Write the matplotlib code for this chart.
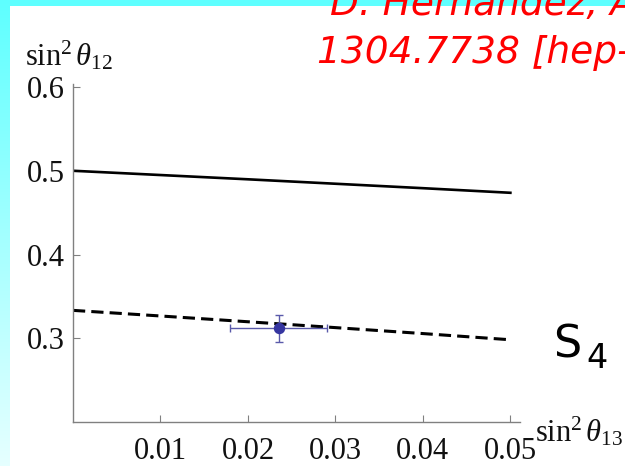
import numpy as np
import matplotlib
matplotlib.use("Agg")
import matplotlib.pyplot as plt

plt.rcParams['mathtext.fontset'] = 'custom'
plt.rcParams['mathtext.rm'] = 'Liberation Serif'
plt.rcParams['mathtext.it'] = 'Liberation Serif:italic'
plt.rcParams['font.family'] = 'Liberation Serif'

# sin^2 theta13 grid and the two sin^2 theta12 predictions
s13 = [0.0, 0.01, 0.02, 0.03, 0.04, 0.05]
s12_solid = [0.5000, 0.4949, 0.4898, 0.4845, 0.4792, 0.4737]
s12_dashed = [0.3333, 0.3266, 0.3197, 0.3127, 0.3056, 0.2982]

# measured point with errors
pt_x = [0.0235]
pt_y = [0.312]
pt_xerr = [0.0055]
pt_yerr = [0.016]

xticks = [0.01, 0.02, 0.03, 0.04, 0.05]
xticklabels = ['0.01', '0.02', '0.03', '0.04', '0.05']
yticks = [0.3, 0.4, 0.5, 0.6]
yticklabels = ['0.3', '0.4', '0.5', '0.6']

W, H = 625, 466
fig = plt.figure(figsize=(W / 100, H / 100), dpi=100)
fig.patch.set_facecolor('white')

# cyan slide frame: top band and left gradient strip
top = fig.add_axes([0, 1 - 6 / H, 1, 6 / H])
top.set_facecolor('#5effff')
top.set_axis_off()
top.add_patch(plt.Rectangle((0, 0), 1, 1, color='#5effff', transform=top.transAxes))

left = fig.add_axes([0, 0, 10 / W, 1])
left.set_axis_off()
grad = np.linspace(0, 1, 256).reshape(-1, 1)
c0 = np.array([0x5e, 0xff, 0xff]) / 255
c1 = np.array([0xe6, 0xff, 0xff]) / 255
img = c0[None, None, :] * (1 - grad[:, :, None]) + c1[None, None, :] * grad[:, :, None]
left.imshow(img, aspect='auto', extent=[0, 1, 0, 1], origin='upper')

# main plot
ax = fig.add_axes([73 / W, (H - 422) / H, (520 - 73) / W, (422 - 84) / H])
ax.set_facecolor('none')
ax.plot(s13, s12_solid, color='black', lw=1.9)
ax.plot(s13, s12_dashed, color='black', lw=2.2, dashes=(4, 2))
ax.errorbar(pt_x, pt_y, xerr=pt_xerr, yerr=pt_yerr, fmt='o', color='#3535a0',
            ms=7.2, ecolor='#5a5aaa', elinewidth=1.0, capsize=3, capthick=1.0)

ax.set_xlim(0, 0.0511)
ax.set_ylim(0.2, 0.6036)
for s in ['top', 'right']:
    ax.spines[s].set_visible(False)
for s in ['left', 'bottom']:
    ax.spines[s].set_color('#808080')
    ax.spines[s].set_linewidth(1.0)
ax.set_xticks(xticks)
ax.set_xticklabels(xticklabels)
ax.set_yticks(yticks)
ax.set_yticklabels(yticklabels)
ax.tick_params(direction='in', length=5, width=0.8, color='#808080',
               labelsize=22, labelcolor='#111111')
ax.tick_params(axis='x', pad=11)
ax.tick_params(axis='y', pad=6)

# axis titles
fig.text(25 / W, 1 - 66 / H, r'$\mathrm{sin}^2\,\theta_{12}$', fontsize=22,
         ha='left', va='baseline', color='#111111')
fig.text(535 / W, 1 - 442 / H, r'$\mathrm{sin}^2\,\theta_{13}$', fontsize=22,
         ha='left', va='baseline', color='#111111')

# symmetry group label
fig.text(553 / W, 1 - 357 / H, 'S', fontsize=32, family='DejaVu Sans',
         ha='left', va='baseline', color='black')
fig.text(586 / W, 1 - 368 / H, '4', fontsize=24, family='DejaVu Sans',
         ha='left', va='baseline', color='black')

# reference
fig.text(330 / W, 1 - 15 / H, 'D. Hernandez, A. Yu. Smirnov', fontsize=27,
         family='DejaVu Sans', style='italic', color='#ff0000',
         ha='left', va='baseline')
fig.text(317 / W, 1 - 63 / H, '1304.7738 [hep-ph]', fontsize=27,
         family='DejaVu Sans', style='italic', color='#ff0000',
         ha='left', va='baseline')

fig.savefig('out.png', dpi=100)
